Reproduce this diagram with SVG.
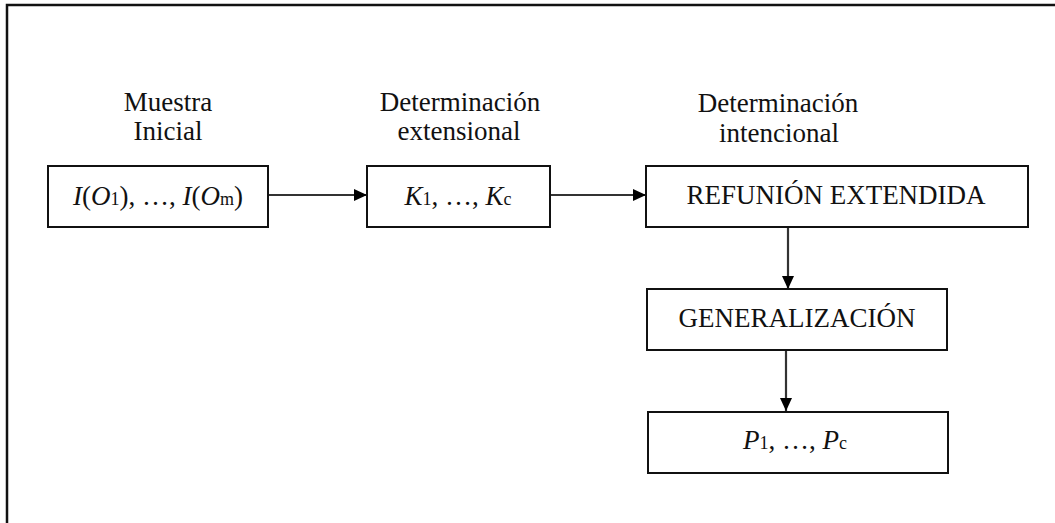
<svg xmlns="http://www.w3.org/2000/svg" width="1055" height="523" viewBox="0 0 1055 523">
<style>
.box{fill:#fff;stroke:#111;stroke-width:2}
.t{font-family:"Liberation Serif","Times New Roman",serif;font-size:27px;fill:#111;text-anchor:middle}
.lab{font-family:"Liberation Serif","Times New Roman",serif;font-size:27px;fill:#111;text-anchor:middle}
.i{font-style:italic}
.s{font-size:18px}
.c{stroke:#333;stroke-width:2.2;fill:none;marker-end:url(#ah)}
</style>
<defs>
<marker id="ah" markerUnits="userSpaceOnUse" markerWidth="14" markerHeight="12" refX="13" refY="6" orient="auto">
<path d="M0,0 L13,6 L0,12 z" fill="#000"/>
</marker>
</defs>
<rect width="1055" height="523" fill="#fff"/>
<path d="M7,523 V5 H1055" fill="none" stroke="#111" stroke-width="2.5"/>
<g id="labels">
<text class="lab" x="168" y="111">Muestra</text>
<text class="lab" x="168" y="140">Inicial</text>
<text class="lab" x="460" y="111">Determinación</text>
<text class="lab" x="459" y="140">extensional</text>
<text class="lab" x="778" y="112">Determinación</text>
<text class="lab" x="779" y="142">intencional</text>
</g>
<g id="connectors">
<line class="c" x1="268" y1="195" x2="367" y2="195"/>
<line class="c" x1="550" y1="195" x2="646" y2="195"/>
<line class="c" x1="788" y1="227" x2="788" y2="289"/>
<line class="c" x1="786" y1="350" x2="786" y2="411"/>
</g>
<g id="n1">
<rect class="box" x="48" y="166" width="220" height="61"/>
<text class="t" x="158" y="205"><tspan class="i">I</tspan>(<tspan class="i">O</tspan><tspan class="s">1</tspan>), …, <tspan class="i">I</tspan>(<tspan class="i">O</tspan><tspan class="s">m</tspan>)</text>
</g>
<g id="n2">
<rect class="box" x="367" y="166" width="183" height="61"/>
<text class="t" x="458" y="205"><tspan class="i">K</tspan><tspan class="s">1</tspan>, …, <tspan class="i">K</tspan><tspan class="s">c</tspan></text>
</g>
<g id="n3">
<rect class="box" x="646" y="166" width="382" height="61"/>
<text class="t" x="836" y="204">REFUNIÓN EXTENDIDA</text>
</g>
<g id="n4">
<rect class="box" x="647" y="289" width="300" height="61"/>
<text class="t" x="797" y="327">GENERALIZACIÓN</text>
</g>
<g id="n5">
<rect class="box" x="648" y="412" width="300" height="61"/>
<text class="t" x="795" y="449"><tspan class="i">P</tspan><tspan class="s">1</tspan>, …, <tspan class="i">P</tspan><tspan class="s">c</tspan></text>
</g>
</svg>
